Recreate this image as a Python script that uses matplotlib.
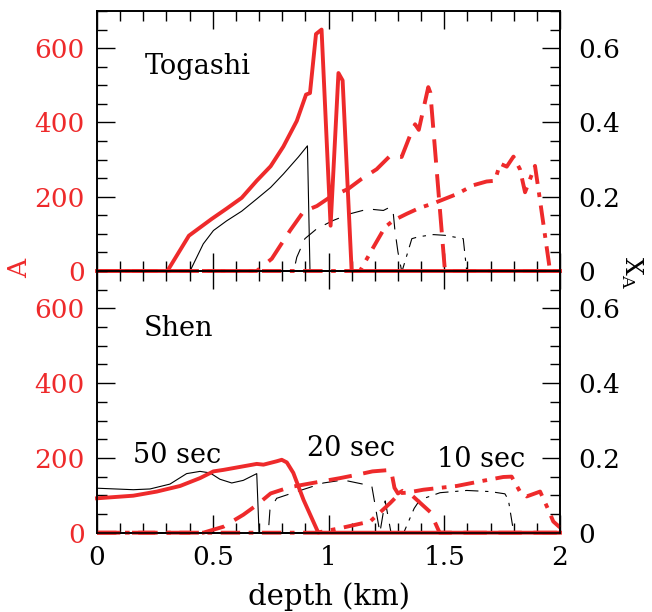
import numpy as np
import matplotlib
matplotlib.use('Agg')
import matplotlib.pyplot as plt
from matplotlib.ticker import MultipleLocator

plt.rcParams['font.family'] = ['DejaVu Serif']
plt.rcParams['mathtext.fontset'] = 'dejavuserif'

RED = '#ee2a2b'

# --- Togashi (top panel) ---
xA50_T = [0, 0.304, 0.397, 0.495, 0.56, 0.625, 0.69, 0.75, 0.805, 0.863, 0.903, 0.92, 0.946, 0.97, 1.009, 1.043, 1.061, 1.10, 2.0]
A50_T = [0, 0, 95, 140, 168, 197, 243, 282, 335, 404, 475, 479, 638, 650, 122, 533, 513, 0, 0]
xX50_T = [0, 0.402, 0.459, 0.503, 0.56, 0.625, 0.69, 0.75, 0.805, 0.87, 0.909, 0.92, 2.0]
X50_T = [0, 0, 0.073, 0.109, 0.135, 0.161, 0.194, 0.225, 0.261, 0.307, 0.337, 0, 0]

xA20_T = [0, 0.69, 0.755, 0.834, 0.892, 0.95, 1.007, 1.085, 1.143, 1.208, 1.266, 1.316, 1.36, 1.374, 1.39, 1.431, 1.44, 1.503, 2.0]
A20_T = [0, 0, 33, 109, 160, 175, 199, 221, 248, 274, 310, 307, 377, 395, 380, 495, 480, 0, 0]
xX20_T = [0, 0.85, 0.863, 0.898, 0.95, 1.02, 1.093, 1.172, 1.237, 1.266, 1.28, 1.287, 1.30, 1.316, 2.0]
X20_T = [0, 0, 0.037, 0.087, 0.114, 0.136, 0.154, 0.167, 0.163, 0.172, 0.154, 0.109, 0.051, 0, 0]

xA10_T = [0, 1.136, 1.194, 1.244, 1.28, 1.338, 1.394, 1.453, 1.554, 1.626, 1.683, 1.719, 1.741, 1.77, 1.799, 1.827, 1.849, 1.868, 1.892, 1.914, 1.957, 2.0]
A10_T = [0, 0, 64, 118, 136, 154, 170, 182, 207, 231, 241, 243, 289, 281, 308, 274, 212, 243, 283, 189, 0, 0]
xX10_T = [0, 1.318, 1.36, 1.388, 1.453, 1.503, 1.582, 1.597, 2.0]
X10_T = [0, 0, 0.087, 0.092, 0.098, 0.096, 0.087, 0, 0]

# --- Shen (bottom panel) ---
xA50_S = [0, 0.157, 0.258, 0.359, 0.445, 0.503, 0.546, 0.618, 0.69, 0.719, 0.776, 0.798, 0.82, 0.848, 0.892, 0.956, 2.0]
A50_S = [92, 99, 110, 125, 146, 164, 168, 176, 184, 182, 191, 195, 188, 160, 88, 0, 0]
xX50_S = [0, 0.157, 0.229, 0.315, 0.387, 0.445, 0.488, 0.531, 0.582, 0.632, 0.69, 0.70, 2.0]
X50_S = [0.119, 0.115, 0.117, 0.130, 0.158, 0.164, 0.160, 0.143, 0.133, 0.140, 0.158, 0, 0]

xA20_S = [0, 0.459, 0.546, 0.632, 0.69, 0.75, 0.834, 0.95, 1.05, 1.123, 1.19, 1.27, 1.285, 1.30, 1.32, 1.36, 1.44, 1.48, 2.0]
A20_S = [0, 0, 16, 48, 74, 105, 122, 135, 146, 155, 164, 168, 120, 105, 112, 100, 55, 0, 0]
xX20_S = [0, 0.74, 0.747, 0.776, 0.863, 0.978, 1.063, 1.187, 1.222, 1.245, 1.27, 2.0]
X20_S = [0, 0, 0.061, 0.092, 0.110, 0.133, 0.141, 0.125, 0, 0.085, 0, 0]

xA10_S = [0, 0.95, 1.05, 1.18, 1.266, 1.309, 1.338, 1.41, 1.554, 1.669, 1.755, 1.791, 1.827, 1.856, 1.914, 1.95, 1.971, 2.0]
A10_S = [0, 0, 12, 30, 79, 106, 107, 115, 125, 139, 149, 150, 110, 97, 110, 61, 30, 14]
xX10_S = [0, 1.325, 1.37, 1.395, 1.482, 1.597, 1.698, 1.762, 1.777, 1.80, 2.0]
X10_S = [0, 0, 0.065, 0.088, 0.107, 0.113, 0.110, 0.104, 0.088, 0, 0]

red_styles = [dict(ls='-'), dict(dashes=(6, 3)), dict(dashes=(5, 2.2, 1.2, 2.2))]
blk_styles = [dict(ls='-'), dict(dashes=(14, 9)), dict(dashes=(12, 6, 3, 6))]

fig = plt.figure(figsize=(6.52, 6.12), dpi=100)
L, R = 97/652, 560/652
top = 1 - 11/612
mid = 1 - 271/612
bot = 1 - 532.7/612

panels = [
    ('Togashi', (0.207, 530), [(xA50_T, A50_T), (xA20_T, A20_T), (xA10_T, A10_T)],
     [(xX50_T, X50_T), (xX20_T, X20_T), (xX10_T, X10_T)], [mid, top - mid]),
    ('Shen', (0.2, 527), [(xA50_S, A50_S), (xA20_S, A20_S), (xA10_S, A10_S)],
     [(xX50_S, X50_S), (xX20_S, X20_S), (xX10_S, X10_S)], [bot, mid - bot]),
]

for i, (name, pos, reds, blks, (y0, h)) in enumerate(panels):
    ax = fig.add_axes([L, y0, R - L, h])
    ax2 = ax.twinx()
    for (x, y), st in zip(blks, blk_styles):
        ax2.plot(x, y, color='black', lw=0.8, clip_on=False, **st)
    for (x, y), st in zip(reds, red_styles):
        ax.plot(x, y, color=RED, lw=2.8, clip_on=False, **st)
    ax.set_zorder(ax2.get_zorder() + 1)
    ax.patch.set_visible(False)

    ax.set_xlim(0, 2)
    ax.set_ylim(0, 700)
    ax2.set_ylim(0, 0.7)
    ax.xaxis.set_major_locator(MultipleLocator(0.5))
    ax.xaxis.set_minor_locator(MultipleLocator(0.1))
    ax.yaxis.set_major_locator(MultipleLocator(200))
    ax.yaxis.set_minor_locator(MultipleLocator(50))
    ax2.yaxis.set_minor_locator(MultipleLocator(0.05))
    ax2.set_yticks([0, 0.2, 0.4, 0.6])
    ax2.set_yticklabels(['0', '0.2', '0.4', '0.6'])

    ax.tick_params(axis='both', which='both', direction='in', top=True, right=False)
    ax.tick_params(axis='both', which='major', length=13, width=1, labelsize=19, pad=9)
    ax.tick_params(axis='both', which='minor', length=7, width=1)
    ax.tick_params(axis='y', labelcolor=RED)
    ax2.tick_params(axis='y', which='major', direction='in', length=13, width=1, labelsize=19, pad=13)
    ax2.tick_params(axis='y', which='minor', direction='in', length=7, width=1)
    ax.set_xticks([0, 0.5, 1, 1.5, 2])
    ax.set_xticklabels(['0', '0.5', '1', '1.5', '2'])
    if i == 0:
        ax.tick_params(axis='x', labelbottom=False)
    else:
        ax.set_xlabel('depth (km)', fontsize=21, labelpad=9)
    for sp in list(ax.spines.values()) + list(ax2.spines.values()):
        sp.set_linewidth(1.2)

    ax.text(pos[0], pos[1], name, fontsize=19.5, va='baseline', ha='left')

    if i == 1:
        ax.text(0.157, 187, '50 sec', fontsize=19.5, va='baseline', ha='left')
        ax.text(0.905, 206, '20 sec', fontsize=19.5, va='baseline', ha='left')
        ax.text(1.467, 177, '10 sec', fontsize=19.5, va='baseline', ha='left')

fig.text(20/652, 1 - 268/612, 'A', color=RED, fontsize=19, rotation=90, ha='center', va='center')
fig.text(632/652, 1 - 272/612, r'$\mathrm{X}_\mathrm{A}$', fontsize=18, rotation=-90, ha='center', va='center')

fig.savefig('out.png', dpi=100)
